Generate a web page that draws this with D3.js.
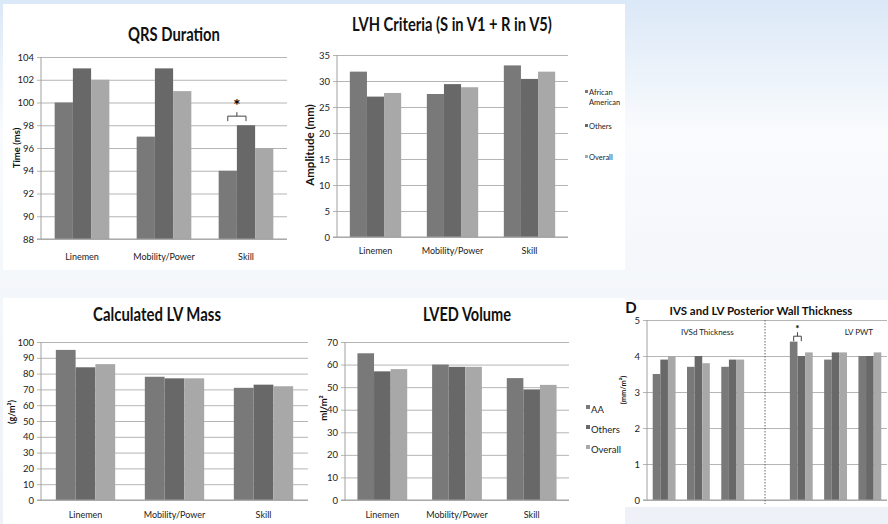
<!DOCTYPE html>
<html>
<head>
  <meta charset="utf-8">
  <title>Athlete ECG / Echo panels</title>
  <script src="https://d3js.org/d3.v7.min.js"></script>
  <style>
    body { margin: 0; }
    svg { display: block; font-family: Lato, "Open Sans", sans-serif; }
  </style>
</head>
<body>
  <div id="my_dataviz"></div>
  <script>
    // categories / series
    var groups = ["Linemen", "Mobility/Power", "Skill"];
    var seriesNames = ["African American", "Others", "Overall"];
    var seriesShort = ["AA", "Others", "Overall"];
    var seriesColors = ["#797979", "#686868", "#a8a8a8"];

    // QRS duration (ms)
    var qrsAA = [100, 97, 94];
    var qrsOthers = [103, 103, 98];
    var qrsOverall = [102, 101, 96];
    var qrsTicks = [88, 90, 92, 94, 96, 98, 100, 102, 104];

    // LVH criteria (mm)
    var lvhAA = [31.8, 27.5, 33];
    var lvhOthers = [27, 29.4, 30.4];
    var lvhOverall = [27.7, 28.8, 31.8];
    var lvhTicks = [0, 5, 10, 15, 20, 25, 30, 35];

    // calculated LV mass (g/m2)
    var massAA = [95, 78, 71];
    var massOthers = [84, 77, 73];
    var massOverall = [86, 77, 72];
    var massTicks = [0, 10, 20, 30, 40, 50, 60, 70, 80, 90, 100];

    // LVED volume (ml/m2)
    var lvedAA = [65, 60, 54];
    var lvedOthers = [57, 59, 49];
    var lvedOverall = [58, 59, 51];
    var lvedTicks = [0, 10, 20, 30, 40, 50, 60, 70];

    // IVS and LV posterior wall thickness (mm/m2) - IVSd groups, spacer, LV PWT groups
    var wallGroups = ["IVSd Linemen", "IVSd Mobility/Power", "IVSd Skill", "gap", "PWT Linemen", "PWT Mobility/Power", "PWT Skill"];
    var wallAA = [3.5, 3.7, 3.7, null, 4.4, 3.9, 4.0];
    var wallOthers = [3.9, 4.0, 3.9, null, 4.0, 4.1, 4.0];
    var wallOverall = [4.0, 3.8, 3.9, null, 4.1, 4.1, 4.1];
    var wallTicks = [0, 1, 2, 3, 4, 5];

    var W = 888, H = 524;
    var svg = d3.select("#my_dataviz")
      .append("svg")
      .attr("width", W)
      .attr("height", H);

    // squeeze bold titles to the width they have in the source (narrow font there)
    function condense(sel, width) {
      sel.each(function () {
        var t = d3.select(this);
        var k = width / this.getComputedTextLength();
        var x = +t.attr("x") || 0, y = +t.attr("y") || 0;
        var prev = t.attr("transform") || "";
        t.attr("x", 0).attr("y", 0)
          .attr("transform", prev + " translate(" + x + "," + y + ") scale(" + k + ",1)");
      });
    }

    // page background
    var grad = svg.append("defs").append("linearGradient")
      .attr("id", "bg").attr("x1", 0).attr("y1", 0).attr("x2", 0).attr("y2", 1);
    grad.append("stop").attr("offset", "0%").attr("stop-color", "#dbe8f7");
    grad.append("stop").attr("offset", "25%").attr("stop-color", "#f9fbfd");
    grad.append("stop").attr("offset", "60%").attr("stop-color", "#f3f6fa");
    grad.append("stop").attr("offset", "100%").attr("stop-color", "#eef2f8");
    svg.append("rect").attr("width", W).attr("height", H).attr("fill", "url(#bg)");

    // white panels
    svg.append("rect").attr("x", 3).attr("y", 4).attr("width", 622).attr("height", 266).attr("fill", "#fff");
    svg.append("rect").attr("x", 3).attr("y", 298).attr("width", 622).attr("height", 226).attr("fill", "#fff");
    svg.append("rect").attr("x", 622).attr("y", 300).attr("width", 266).attr("height", 207).attr("fill", "#fff");

    function zipSeries(a, b, c) {
      return [a, b, c].map(function (vals, i) {
        return { name: seriesNames[i], color: seriesColors[i], values: vals };
      });
    }

    function drawChart(cfg) {
      var w = cfg.x1 - cfg.x0, h = cfg.y1 - cfg.y0;
      var g = svg.append("g").attr("transform", "translate(" + cfg.x0 + "," + cfg.y0 + ")");

      var x = d3.scaleBand().domain(cfg.groups).range([0, w]).paddingInner(0).paddingOuter(0);
      var y = d3.scaleLinear().domain(cfg.domain).range([h, 0]);
      var barW = x.bandwidth() / 4.5;
      var xs = d3.scaleBand().domain(d3.range(cfg.series.length)).range([0, barW * 3]);

      // gridlines + left ticks
      var yAxis = g.append("g")
        .call(d3.axisLeft(y).tickValues(cfg.ticks).tickFormat(d3.format("d"))
          .tickSizeInner(-w).tickSizeOuter(0).tickPadding(6));
      yAxis.select(".domain").remove();
      yAxis.selectAll(".tick line").attr("x1", -4).attr("x2", w).attr("stroke", "#b5b5b5");
      yAxis.selectAll(".tick text").attr("font-size", 9.5).attr("fill", "#222")
        .attr("font-family", "Lato, sans-serif").attr("x", -7);

      // bars
      cfg.series.forEach(function (s, si) {
        g.append("g").selectAll("rect")
          .data(s.values.map(function (v, i) { return { v: v, grp: cfg.groups[i] }; })
            .filter(function (d) { return d.v != null; }))
          .enter().append("rect")
          .attr("x", function (d) { return x(d.grp) + (x.bandwidth() - barW * 3) / 2 + xs(si); })
          .attr("y", function (d) { return y(d.v); })
          .attr("width", xs.bandwidth())
          .attr("height", function (d) { return h - y(d.v); })
          .attr("fill", s.color);
      });

      // axis lines
      g.append("line").attr("x1", 0).attr("x2", 0).attr("y1", 0).attr("y2", h).attr("stroke", "#a0a0a0");
      g.append("line").attr("x1", -4).attr("x2", w).attr("y1", h).attr("y2", h).attr("stroke", "#a0a0a0");

      // category labels
      if (cfg.showCats) {
        g.append("g").selectAll("text")
          .data(cfg.groups).enter().append("text")
          .attr("x", function (d) { return x(d) + x.bandwidth() / 2; })
          .attr("y", h + cfg.catDy)
          .attr("text-anchor", "middle")
          .attr("font-size", 9)
          .attr("fill", "#222")
          .text(function (d) { return d; });
      }

      // title
      var tt = svg.append("text")
        .attr("x", cfg.titleX).attr("y", cfg.titleY)
        .attr("text-anchor", "middle")
        .attr("font-size", cfg.titleSize)
        .attr("font-weight", "bold")
        .attr("fill", "#111")
        .text(cfg.title);
      condense(tt, cfg.titleW);

      // y label
      svg.append("text")
        .attr("transform", "translate(" + cfg.ylabX + "," + cfg.ylabY + ") rotate(-90)")
        .attr("text-anchor", "middle")
        .attr("font-size", cfg.ylabSize)
        .attr("font-weight", "bold")
        .attr("fill", "#111")
        .text(cfg.ylab);

      return { g: g, x: x, y: y, barW: barW, xs: xs };
    }

    function bracket(c, grp, v, size) {
      var left = c.x(grp) + (c.x.bandwidth() - c.barW * 3) / 2 + c.xs.bandwidth() / 2;
      var right = left + c.xs.bandwidth();
      var yb = c.y(v);
      c.g.append("path")
        .attr("d", "M" + left + "," + (yb + 5) + "V" + yb + "H" + right + "V" + (yb + 5) +
          "M" + ((left + right) / 2) + "," + yb + "v-4")
        .attr("fill", "none").attr("stroke", "#444").attr("stroke-width", 1);
      c.g.append("text")
        .attr("x", (left + right) / 2).attr("y", yb - 4)
        .attr("text-anchor", "middle")
        .attr("font-size", size).attr("font-weight", "bold")
        .text("*");
    }

    // QRS Duration
    var qrs = drawChart({
      x0: 41, x1: 287, y0: 57, y1: 239, groups: groups, domain: [88, 104], ticks: qrsTicks,
      series: zipSeries(qrsAA, qrsOthers, qrsOverall), showCats: true, catDy: 21,
      title: "QRS Duration", titleX: 174, titleY: 41, titleSize: 18, titleW: 92,
      ylab: "Time (ms)", ylabX: 20, ylabY: 148, ylabSize: 9.5
    });
    bracket(qrs, "Skill", 98.8, 17);

    // LVH criteria
    drawChart({
      x0: 337, x1: 568, y0: 55, y1: 237, groups: groups, domain: [0, 35], ticks: lvhTicks,
      series: zipSeries(lvhAA, lvhOthers, lvhOverall), showCats: true, catDy: 17,
      title: "LVH Criteria (S in V1 + R in V5)", titleX: 452, titleY: 31, titleSize: 18, titleW: 200,
      ylab: "Amplitude (mm)", ylabX: 314, ylabY: 145, ylabSize: 11.5
    });
    var lvhLegend = [
      { lines: ["African", "American"], y: 95 },
      { lines: ["Others"], y: 129 },
      { lines: ["Overall"], y: 160 }
    ];
    lvhLegend.forEach(function (d, i) {
      svg.append("rect").attr("x", 585).attr("y", d.y - 5).attr("width", 3).attr("height", 3).attr("fill", seriesColors[i]);
      d.lines.forEach(function (l, k) {
        svg.append("text").attr("x", 589).attr("y", d.y + k * 10)
          .attr("font-size", 7.5).attr("fill", "#222").text(l);
      });
    });

    // Calculated LV mass
    drawChart({
      x0: 41, x1: 308, y0: 342, y1: 500, groups: groups, domain: [0, 100], ticks: massTicks,
      series: zipSeries(massAA, massOthers, massOverall), showCats: true, catDy: 18,
      title: "Calculated LV Mass", titleX: 157, titleY: 321, titleSize: 18, titleW: 128,
      ylab: "(g/m\u00B2)", ylabX: 15, ylabY: 412, ylabSize: 9
    });

    // LVED volume
    drawChart({
      x0: 345, x1: 569, y0: 342, y1: 500, groups: groups, domain: [0, 70], ticks: lvedTicks,
      series: zipSeries(lvedAA, lvedOthers, lvedOverall), showCats: true, catDy: 18,
      title: "LVED Volume", titleX: 467, titleY: 321, titleSize: 18, titleW: 88,
      ylab: "ml/m\u00B2", ylabX: 327, ylabY: 408, ylabSize: 9.5
    });
    seriesShort.forEach(function (n, i) {
      var yy = 413 + i * 20;
      svg.append("rect").attr("x", 586).attr("y", yy - 8).attr("width", 4).attr("height", 4).attr("fill", seriesColors[i]);
      svg.append("text").attr("x", 591).attr("y", yy).attr("font-size", 9.5).attr("fill", "#222").text(n);
    });

    // IVS and LV posterior wall thickness
    var wall = drawChart({
      x0: 647, x1: 887, y0: 320, y1: 500, groups: wallGroups, domain: [0, 5], ticks: wallTicks,
      series: zipSeries(wallAA, wallOthers, wallOverall), showCats: false,
      title: "IVS and LV Posterior Wall Thickness", titleX: 761, titleY: 315, titleSize: 11.5, titleW: 183,
      ylab: "(mm/m\u00B2)", ylabX: 626, ylabY: 390, ylabSize: 7.5
    });
    var midX = wall.x("gap") + wall.x.bandwidth() / 2 - 2;
    wall.g.append("line")
      .attr("x1", midX).attr("x2", midX)
      .attr("y1", 0).attr("y2", 184)
      .attr("stroke", "#666").attr("stroke-dasharray", "1.5,1.5");
    wall.g.append("text").attr("x", wall.x("IVSd Mobility/Power") + wall.x.bandwidth() / 2 + 9).attr("y", 15)
      .attr("text-anchor", "middle").attr("font-size", 8).attr("fill", "#222").text("IVSd Thickness");
    wall.g.append("text").attr("x", wall.x("PWT Skill") + wall.x.bandwidth() / 2 - 11).attr("y", 15)
      .attr("text-anchor", "middle").attr("font-size", 8).attr("fill", "#222").text("LV PWT");
    bracket(wall, "PWT Linemen", 4.55, 10);
    svg.append("text").attr("x", 631).attr("y", 313).attr("text-anchor", "middle")
      .attr("font-size", 15).attr("font-weight", "bold").attr("fill", "#111").text("D");
  </script>
</body>
</html>
